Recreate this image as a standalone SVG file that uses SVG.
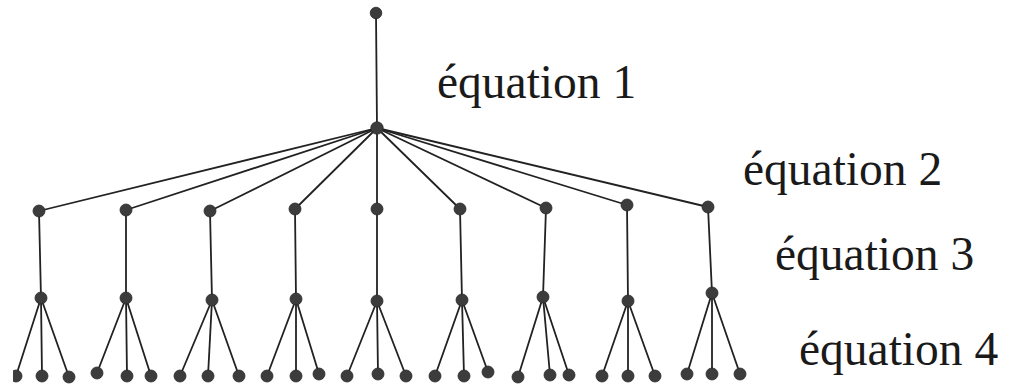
<svg xmlns="http://www.w3.org/2000/svg" width="1009" height="385" viewBox="0 0 1009 385">
<style>
.e{stroke:#222;stroke-width:1.8;fill:none;stroke-linecap:round}
.n{fill:#3c3c3c;stroke:#2a2a2a;stroke-width:0.8}
.t{font-family:"Liberation Serif","Times New Roman",serif;font-size:47.5px;fill:#1a1a1a}
</style>
<defs><clipPath id="cl"><rect x="13" y="0" width="1000" height="385"/></clipPath></defs>
<rect width="1009" height="385" fill="#fff"/>
<g id="connectors" class="e">
<line x1="376" y1="13" x2="377" y2="128"/>
<line x1="377" y1="128" x2="39" y2="211"/>
<line x1="377" y1="128" x2="126" y2="210"/>
<line x1="377" y1="128" x2="210" y2="211"/>
<line x1="377" y1="128" x2="295" y2="209"/>
<line x1="377" y1="128" x2="377" y2="209"/>
<line x1="377" y1="128" x2="460" y2="209"/>
<line x1="377" y1="128" x2="546" y2="208"/>
<line x1="377" y1="128" x2="627" y2="205"/>
<line x1="377" y1="128" x2="708" y2="207"/>
<line x1="39" y1="211" x2="41" y2="298"/>
<line x1="126" y1="210" x2="126" y2="298"/>
<line x1="210" y1="211" x2="212" y2="300"/>
<line x1="295" y1="209" x2="296" y2="299"/>
<line x1="377" y1="209" x2="377" y2="301"/>
<line x1="460" y1="209" x2="462" y2="300"/>
<line x1="546" y1="208" x2="543" y2="297"/>
<line x1="627" y1="205" x2="628" y2="301"/>
<line x1="708" y1="207" x2="712" y2="293"/>
<line x1="41" y1="298" x2="16" y2="376"/><line x1="41" y1="298" x2="42" y2="376"/><line x1="41" y1="298" x2="69" y2="377"/>
<line x1="126" y1="298" x2="97" y2="373"/><line x1="126" y1="298" x2="127" y2="376"/><line x1="126" y1="298" x2="151" y2="376"/>
<line x1="212" y1="300" x2="180" y2="376"/><line x1="212" y1="300" x2="208" y2="376"/><line x1="212" y1="300" x2="239" y2="376"/>
<line x1="296" y1="299" x2="267" y2="376"/><line x1="296" y1="299" x2="296" y2="376"/><line x1="296" y1="299" x2="319" y2="374"/>
<line x1="377" y1="301" x2="347" y2="376"/><line x1="377" y1="301" x2="378" y2="374"/><line x1="377" y1="301" x2="406" y2="376"/>
<line x1="462" y1="300" x2="435" y2="376"/><line x1="462" y1="300" x2="464" y2="376"/><line x1="462" y1="300" x2="488" y2="372"/>
<line x1="543" y1="297" x2="518" y2="377"/><line x1="543" y1="297" x2="550" y2="375"/><line x1="543" y1="297" x2="569" y2="375"/>
<line x1="628" y1="301" x2="602" y2="376"/><line x1="628" y1="301" x2="628" y2="376"/><line x1="628" y1="301" x2="655" y2="376"/>
<line x1="712" y1="293" x2="687" y2="374"/><line x1="712" y1="293" x2="712" y2="374"/><line x1="712" y1="293" x2="740" y2="374"/>
</g>
<g id="root" class="n"><circle cx="376" cy="13" r="5.8"/></g>
<g id="hub" class="n"><circle cx="377" cy="128" r="6.2"/></g>
<g id="level2" class="n">
<circle cx="39" cy="211" r="6"/><circle cx="126" cy="210" r="6"/><circle cx="210" cy="211" r="6"/>
<circle cx="295" cy="209" r="6"/><circle cx="377" cy="209" r="6"/><circle cx="460" cy="209" r="6"/>
<circle cx="546" cy="208" r="6"/><circle cx="627" cy="205" r="6"/><circle cx="708" cy="207" r="6"/>
</g>
<g id="level3" class="n">
<circle cx="41" cy="298" r="6"/><circle cx="126" cy="298" r="6"/><circle cx="212" cy="300" r="6"/>
<circle cx="296" cy="299" r="6"/><circle cx="377" cy="301" r="6"/><circle cx="462" cy="300" r="6"/>
<circle cx="543" cy="297" r="6"/><circle cx="628" cy="301" r="6"/><circle cx="712" cy="293" r="6"/>
</g>
<g id="leaves" class="n">
<circle cx="16" cy="376" r="6" clip-path="url(#cl)"/><circle cx="42" cy="376" r="6"/><circle cx="69" cy="377" r="6"/>
<circle cx="97" cy="373" r="6"/><circle cx="127" cy="376" r="6"/><circle cx="151" cy="376" r="6"/>
<circle cx="180" cy="376" r="6"/><circle cx="208" cy="376" r="6"/><circle cx="239" cy="376" r="6"/>
<circle cx="267" cy="376" r="6"/><circle cx="296" cy="376" r="6"/><circle cx="319" cy="374" r="6"/>
<circle cx="347" cy="376" r="6"/><circle cx="378" cy="374" r="6"/><circle cx="406" cy="376" r="6"/>
<circle cx="435" cy="376" r="6"/><circle cx="464" cy="376" r="6"/><circle cx="488" cy="372" r="6"/>
<circle cx="518" cy="377" r="6"/><circle cx="550" cy="375" r="6"/><circle cx="569" cy="375" r="6"/>
<circle cx="602" cy="376" r="6"/><circle cx="628" cy="376" r="6"/><circle cx="655" cy="376" r="6"/>
<circle cx="687" cy="374" r="6"/><circle cx="712" cy="374" r="6"/><circle cx="740" cy="374" r="6"/>
</g>
<g id="labels">
<text class="t" x="437" y="98">équation 1</text>
<text class="t" x="743" y="185">équation 2</text>
<text class="t" x="775" y="270">équation 3</text>
<text class="t" x="799" y="365">équation 4</text>
</g>
</svg>
